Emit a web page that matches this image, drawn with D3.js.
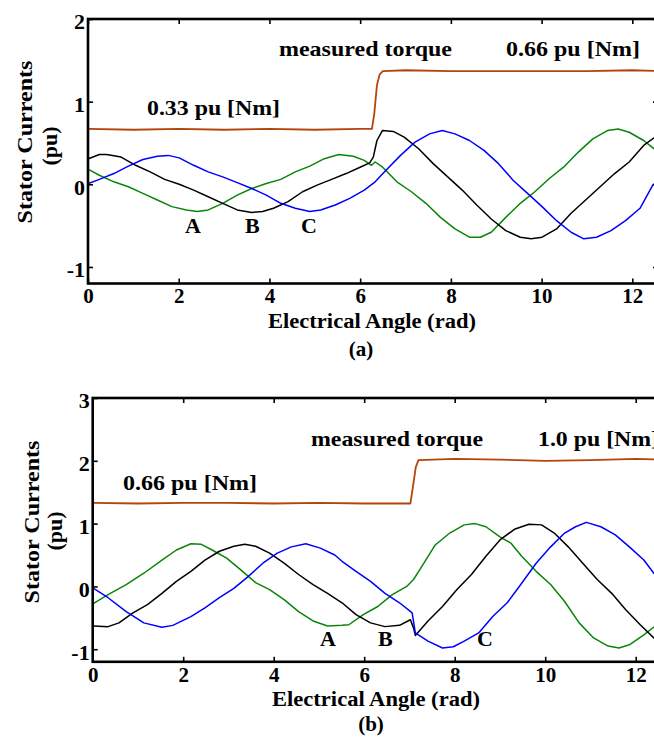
<!DOCTYPE html>
<html>
<head>
<meta charset="utf-8">
<script src="https://cdn.jsdelivr.net/npm/d3@7"></script>
<style>
  html, body { margin: 0; padding: 0; background: #fff; }
  svg { display: block; }
</style>
</head>
<body>
<svg id="chart" width="654" height="742"></svg>
<script>
// ---------------- DATA ----------------
const xTicks = [0, 2, 4, 6, 8, 10, 12];
const yTicksA = [-1, 0, 1, 2];
const yTicksB = [-1, 0, 1, 2, 3];
const phaseLabels = ["A", "B", "C"];

// Panel (a): [electrical angle (rad), value (pu)]
const torqueA = [[0,0.67],[1,0.66],[2,0.67],[3,0.66],[4,0.67],[5,0.66],[6.0,0.67],[6.26,0.67],[6.31,0.85],[6.37,1.2],[6.43,1.33],[6.5,1.37],[7,1.38],[8,1.37],[9,1.37],[10,1.37],[11,1.37],[12,1.38],[12.57,1.37]];
const phaseA_a = [[0.01,0.18],[0.25,0.11],[0.57,0.03],[0.89,-0.03],[1.21,-0.11],[1.53,-0.19],[1.85,-0.27],[2.17,-0.31],[2.41,-0.33],[2.65,-0.31],[2.97,-0.23],[3.29,-0.13],[3.61,-0.05],[3.93,0.01],[4.25,0.06],[4.57,0.15],[4.89,0.22],[5.21,0.31],[5.53,0.36],[5.85,0.34],[6.09,0.29],[6.25,0.23],[6.33,0.27],[6.49,0.21],[6.81,0.03],[7.13,-0.09],[7.45,-0.23],[7.77,-0.40],[8.09,-0.54],[8.41,-0.64],[8.65,-0.64],[8.89,-0.58],[9.21,-0.40],[9.53,-0.23],[9.85,-0.09],[10.17,0.07],[10.49,0.21],[10.81,0.39],[11.13,0.55],[11.45,0.65],[11.69,0.67],[11.93,0.63],[12.25,0.53],[12.57,0.39]];
const phaseB_a = [[0.01,0.31],[0.25,0.36],[0.41,0.36],[0.73,0.33],[1.05,0.23],[1.37,0.15],[1.69,0.06],[2.01,0.00],[2.33,-0.07],[2.65,-0.15],[2.97,-0.23],[3.29,-0.31],[3.61,-0.34],[3.85,-0.33],[4.09,-0.29],[4.41,-0.21],[4.73,-0.09],[5.05,-0.01],[5.37,0.06],[5.69,0.13],[6.01,0.21],[6.21,0.26],[6.29,0.33],[6.37,0.53],[6.49,0.65],[6.73,0.64],[6.97,0.57],[7.29,0.43],[7.61,0.25],[7.93,0.09],[8.25,-0.07],[8.57,-0.25],[8.89,-0.42],[9.21,-0.56],[9.53,-0.64],[9.77,-0.66],[10.01,-0.64],[10.33,-0.54],[10.65,-0.35],[10.97,-0.19],[11.29,-0.03],[11.61,0.13],[11.93,0.27],[12.25,0.47],[12.57,0.60]];
const phaseC_a = [[0.01,0.01],[0.25,0.06],[0.57,0.13],[0.89,0.22],[1.21,0.30],[1.53,0.34],[1.77,0.35],[2.01,0.32],[2.33,0.23],[2.65,0.15],[2.97,0.09],[3.29,0.02],[3.61,-0.05],[3.93,-0.13],[4.25,-0.23],[4.57,-0.29],[4.89,-0.33],[5.13,-0.31],[5.45,-0.25],[5.77,-0.17],[6.09,-0.07],[6.33,0.03],[6.57,0.17],[6.89,0.35],[7.21,0.51],[7.53,0.61],[7.81,0.65],[8.09,0.61],[8.41,0.53],[8.73,0.41],[9.05,0.25],[9.37,0.05],[9.69,-0.11],[10.01,-0.27],[10.33,-0.44],[10.65,-0.58],[10.93,-0.66],[11.21,-0.64],[11.53,-0.56],[11.85,-0.44],[12.17,-0.29],[12.45,-0.01],[12.57,0.05]];

// Panel (b)
const torqueB = [[0,1.33],[1,1.32],[2,1.33],[3,1.33],[4,1.32],[5,1.33],[6,1.32],[7.02,1.32],[7.08,1.6],[7.14,1.9],[7.2,2.01],[8,2.03],[9,2.02],[10,2.0],[11,2.01],[12,2.03],[12.57,2.02]];
const phaseA_b = [[0.02,-0.27],[0.34,-0.13],[0.74,0.03],[1.13,0.21],[1.53,0.42],[1.85,0.58],[2.17,0.68],[2.40,0.67],[2.64,0.58],[2.96,0.45],[3.28,0.26],[3.60,0.06],[3.91,-0.05],[4.23,-0.21],[4.55,-0.40],[4.87,-0.55],[5.19,-0.63],[5.51,-0.62],[5.66,-0.61],[5.98,-0.45],[6.30,-0.32],[6.62,-0.13],[6.94,0.00],[7.09,0.11],[7.25,0.29],[7.57,0.66],[7.89,0.85],[8.21,0.98],[8.45,1.00],[8.69,0.95],[9.00,0.79],[9.24,0.69],[9.48,0.48],[9.80,0.24],[10.12,0.03],[10.43,-0.24],[10.75,-0.58],[11.07,-0.82],[11.39,-0.95],[11.63,-0.98],[11.86,-0.93],[12.18,-0.77],[12.57,-0.55]];
const phaseB_b = [[0.02,-0.63],[0.34,-0.64],[0.58,-0.58],[0.89,-0.42],[1.21,-0.29],[1.53,-0.11],[1.85,0.08],[2.17,0.24],[2.48,0.42],[2.80,0.56],[3.12,0.64],[3.36,0.67],[3.60,0.64],[3.91,0.53],[4.23,0.37],[4.55,0.19],[4.87,0.03],[5.19,-0.11],[5.51,-0.26],[5.82,-0.45],[6.14,-0.58],[6.46,-0.64],[6.78,-0.62],[7.02,-0.53],[7.09,-0.66],[7.13,-0.78],[7.41,-0.55],[7.73,-0.32],[8.05,-0.05],[8.37,0.19],[8.69,0.48],[9.00,0.74],[9.32,0.91],[9.64,0.99],[9.92,0.98],[10.20,0.85],[10.51,0.63],[10.83,0.37],[11.15,0.11],[11.47,-0.11],[11.78,-0.37],[12.10,-0.61],[12.40,-0.82],[12.57,-0.90]];
const phaseC_b = [[0.02,-0.03],[0.34,-0.18],[0.74,-0.40],[1.13,-0.58],[1.53,-0.65],[1.77,-0.62],[2.17,-0.48],[2.48,-0.34],[2.80,-0.18],[3.12,-0.03],[3.44,0.16],[3.76,0.37],[4.08,0.53],[4.39,0.63],[4.71,0.68],[5.03,0.61],[5.35,0.50],[5.51,0.40],[5.82,0.24],[6.14,0.08],[6.46,-0.11],[6.78,-0.26],[7.06,-0.42],[7.13,-0.74],[7.41,-0.87],[7.73,-0.98],[7.97,-0.96],[8.21,-0.87],[8.53,-0.74],[8.84,-0.48],[9.16,-0.26],[9.48,0.05],[9.80,0.37],[10.12,0.63],[10.43,0.85],[10.67,0.95],[10.91,1.02],[11.23,0.95],[11.55,0.82],[11.86,0.63],[12.18,0.42],[12.40,0.21],[12.57,0.10]];

// ---------------- STYLE ----------------
const FONT = "'Liberation Serif','Times New Roman',Times,serif";
const COLORS = { torque: "#b5440c", A: "#0a850a", B: "#000000", C: "#0000ff" };

const svg = d3.select("#chart");

function addText(g, str, x, y, opts = {}) {
  const t = g.append("text")
    .attr("x", x).attr("y", y)
    .attr("font-family", FONT)
    .attr("font-weight", "bold")
    .attr("font-size", opts.size || 22)
    .attr("fill", "#000")
    .attr("text-anchor", opts.anchor || "start")
    .text(str);
  if (opts.len) t.attr("textLength", opts.len).attr("lengthAdjust", "spacingAndGlyphs");
  if (opts.rotate) t.attr("transform", `rotate(-90,${x},${y})`);
  return t;
}

function panel(cfg) {
  const x = d3.scaleLinear().domain([0, 4 * Math.PI]).range([cfg.left, cfg.left + 4 * Math.PI * cfg.pxPerRad]);
  const y = d3.scaleLinear().domain(cfg.yDomain).range([cfg.bottom, cfg.top]);
  const g = svg.append("g");
  const clipId = "clip" + cfg.id;
  svg.append("clipPath").attr("id", clipId).append("rect")
    .attr("x", x.range()[0]).attr("y", cfg.top)
    .attr("width", x.range()[1] - x.range()[0]).attr("height", cfg.bottom - cfg.top);

  const line = d3.line().x(d => x(d[0])).y(d => y(d[1]));
  const lines = g.append("g").attr("clip-path", `url(#${clipId})`);
  const series = [
    [cfg.torque, COLORS.torque, 1.8],
    [cfg.A, COLORS.A, 1.5],
    [cfg.B, COLORS.B, 1.5],
    [cfg.C, COLORS.C, 1.5]
  ];
  series.forEach(([data, color, w]) => {
    lines.append("path").datum(data)
      .attr("fill", "none").attr("stroke", color).attr("stroke-width", w)
      .attr("stroke-linejoin", "round")
      .attr("d", line);
  });

  // axes
  const styleAxis = (sel, size) => {
    sel.select(".domain").remove();
    sel.selectAll(".tick line").attr("stroke", "#000").attr("stroke-width", 1.6);
    sel.selectAll(".tick text").attr("font-family", FONT).attr("font-weight", "bold")
      .attr("font-size", size).attr("fill", "#000");
  };
  g.append("g").attr("transform", `translate(0,${cfg.bottom})`)
    .call(d3.axisBottom(x).tickValues(xTicks).tickSize(-5).tickPadding(5).tickFormat(d => String(d)))
    .call(styleAxis, 21);
  g.append("g").attr("transform", `translate(0,${cfg.top})`)
    .call(d3.axisTop(x).tickValues(xTicks).tickSize(-5).tickFormat(""))
    .call(styleAxis, 21);
  g.append("g").attr("transform", `translate(${cfg.left},0)`)
    .call(d3.axisLeft(y).tickValues(cfg.yTicks).tickSize(-5).tickPadding(3).tickFormat(d => String(d)))
    .call(styleAxis, 22)
    .call(s => s.selectAll(".tick text").attr("dy", "0.45em"));
  g.append("g").attr("transform", `translate(${x.range()[1]},0)`)
    .call(d3.axisRight(y).tickValues(cfg.yTicks).tickSize(-5).tickFormat(""))
    .call(styleAxis, 22);

  // frame
  g.append("rect")
    .attr("x", x.range()[0]).attr("y", cfg.top)
    .attr("width", x.range()[1] - x.range()[0]).attr("height", cfg.bottom - cfg.top)
    .attr("fill", "none").attr("stroke", "#000").attr("stroke-width", 2.6);

  // texts
  cfg.texts.forEach(t => addText(g, t.s, t.x, t.y, t));
  phaseLabels.forEach((p, i) => addText(g, p, cfg.labelX[i], cfg.labelY, { size: 22 }));
}

panel({
  id: "a", left: 88, top: 19, bottom: 283.5, pxPerRad: 45.36, yDomain: [-1.2, 2], yTicks: yTicksA,
  torque: torqueA, A: phaseA_a, B: phaseB_a, C: phaseC_a,
  labelX: [185, 245, 301], labelY: 233,
  texts: [
    { s: "measured torque", x: 279, y: 56, len: 173 },
    { s: "0.66 pu [Nm]", x: 506, y: 56, len: 134 },
    { s: "0.33 pu [Nm]", x: 147, y: 115, len: 133 },
    { s: "Electrical Angle (rad)", x: 372, y: 328, anchor: "middle", len: 208, size: 20 },
    { s: "(a)", x: 361, y: 356, anchor: "middle", size: 21 },
    { s: "Stator Currents", x: 32, y: 142, anchor: "middle", len: 163, rotate: true },
    { s: "(pu)", x: 57, y: 146, anchor: "middle", rotate: true }
  ]
});

panel({
  id: "b", left: 92.7, top: 398, bottom: 661.8, pxPerRad: 45.25, yDomain: [-1.2, 3], yTicks: yTicksB,
  torque: torqueB, A: phaseA_b, B: phaseB_b, C: phaseC_b,
  labelX: [320, 378, 477], labelY: 646,
  texts: [
    { s: "measured torque", x: 311, y: 446, len: 172 },
    { s: "1.0 pu [Nm]", x: 538, y: 446, len: 121 },
    { s: "0.66 pu [Nm]", x: 123, y: 490, len: 134 },
    { s: "Electrical Angle (rad)", x: 376, y: 706, anchor: "middle", len: 208, size: 20 },
    { s: "(b)", x: 371, y: 731, anchor: "middle", size: 21 },
    { s: "Stator Currents", x: 39, y: 522, anchor: "middle", len: 163, rotate: true },
    { s: "(pu)", x: 62, y: 531, anchor: "middle", rotate: true }
  ]
});
</script>
</body>
</html>
